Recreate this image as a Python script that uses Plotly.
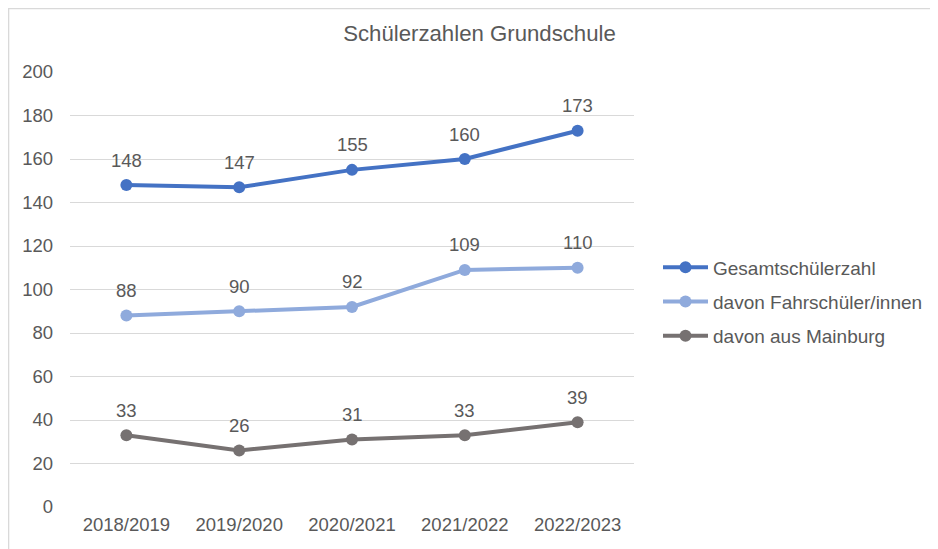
import plotly.graph_objects as go

categories = ["2018/2019", "2019/2020", "2020/2021", "2021/2022", "2022/2023"]
gesamt = [148, 147, 155, 160, 173]
fahrschueler = [88, 90, 92, 109, 110]
mainburg = [33, 26, 31, 33, 39]
y_ticks = [0, 20, 40, 60, 80, 100, 120, 140, 160, 180, 200]

series = [
    ("Gesamtschülerzahl", gesamt, "#4472C4"),
    ("davon Fahrschüler/innen", fahrschueler, "#8FAADC"),
    ("davon aus Mainburg", mainburg, "#767171"),
]

FONT = "Liberation Sans, Arial, sans-serif"
TXT = "#595959"

# page has 8px body margin; figure sized to fit the 938x549 window
W, H = 930, 541
L, T = 62, 64
PW, PH = 564.5, 435

fig = go.Figure()
annotations = []
for i, (name, vals, col) in enumerate(series):
    fig.add_trace(go.Scatter(
        x=categories, y=vals, name=name, mode="lines+markers",
        line=dict(color=col, width=4),
        marker=dict(color=col, size=12),
        legendgroup=f"g{i}",
        cliponaxis=False,
    ))
    for c, v in zip(categories, vals):
        annotations.append(dict(x=c, y=v, text=str(v), showarrow=False,
                                yshift=25, xref="x", yref="y",
                                font=dict(family=FONT, size=18.5, color=TXT)))

fig.update_layout(
    width=W, height=H,
    margin=dict(l=L, r=W - L - PW, t=T, b=H - T - PH, autoexpand=False),
    paper_bgcolor="white", plot_bgcolor="white",
    font=dict(family=FONT, color=TXT, size=18.5),
    title=dict(text="Schülerzahlen Grundschule", x=471.5 / W, xref="container",
               y=1 - 25 / H, yref="container", xanchor="center", yanchor="middle",
               font=dict(family=FONT, size=22.2, color=TXT)),
    showlegend=True,
    legend=dict(x=650 / W, xref="container", xanchor="left",
                y=1 - 294 / H, yref="container", yanchor="middle",
                font=dict(family=FONT, size=19, color=TXT),
                bgcolor="rgba(0,0,0,0)", itemwidth=45, tracegroupgap=6.5),
    annotations=annotations,
    xaxis=dict(type="category", range=[-0.5, 4.5], showgrid=False, zeroline=False,
               showline=False, ticks="", ticklabelstandoff=4,
               tickfont=dict(family=FONT, size=18.5, color=TXT)),
    yaxis=dict(range=[0, 200], tickvals=y_ticks, showgrid=True, gridcolor="#D9D9D9",
               gridwidth=1, zeroline=False, showline=False, ticks="",
               ticklabelstandoff=16,
               tickfont=dict(family=FONT, size=18.5, color=TXT)),
    shapes=[dict(type="rect", xref="paper", yref="paper",
                 x0=(0.5 - L) / PW, x1=1.8, y0=-0.3, y1=1 + (T - 0.5) / PH,
                 line=dict(color="#D9D9D9", width=1.5), layer="below")],
)

fig.write_html("out.html")
